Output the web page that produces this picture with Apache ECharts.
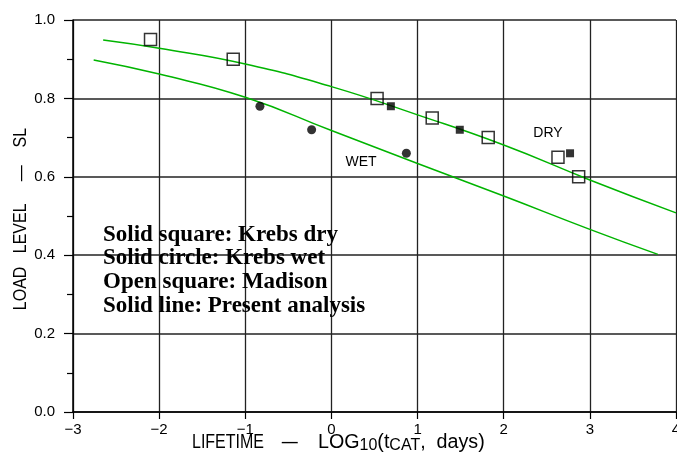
<!DOCTYPE html>
<html>
<head>
<meta charset="UTF-8">
<script src="https://cdn.jsdelivr.net/npm/echarts@6/dist/echarts.min.js"></script>
<style>
    html, body { margin: 0; padding: 0; background: #fff; }
    #chart { width: 677px; height: 457px; }
</style>
</head>
<body>
<div id="chart"></div>
<script>
    // analysis curves (x = log10 lifetime, y = load level)
    let dryLineX = [-2.65, -2, -1, 0, 1, 2, 3, 4];
    let dryLineY = [0.949, 0.928, 0.888, 0.83, 0.758, 0.681, 0.592, 0.508];
    let wetLineX = [-2.76, -2, -1, 0, 1, 2, 3, 3.79];
    let wetLineY = [0.898, 0.862, 0.803, 0.718, 0.634, 0.551, 0.466, 0.402];

    // Madison - open squares
    let madisonX = [-2.1, -1.14, 0.53, 1.17, 1.82, 2.63, 2.87];
    let madisonY = [0.95, 0.9, 0.8, 0.75, 0.7, 0.65, 0.6];
    // Krebs dry - solid squares
    let krebsDryX = [0.69, 1.49, 2.77];
    let krebsDryY = [0.78, 0.72, 0.66];
    // Krebs wet - solid circles
    let krebsWetX = [-0.83, -0.23, 0.87];
    let krebsWetY = [0.78, 0.72, 0.66];

    let legendLines = [
        'Solid square: Krebs dry',
        'Solid circle: Krebs wet',
        'Open square: Madison',
        'Solid line: Present analysis'
    ];

    function pairs(xs, ys) {
        return xs.map(function (x, i) { return [x, ys[i]]; });
    }

    let labelFont = 'Liberation Sans, Arial, sans-serif';
    let green = '#00b400';
    let gridColor = '#222';

    let chart = echarts.init(document.getElementById('chart'));
    chart.setOption({
        animation: false,
        grid: { left: 73, right: 1, top: 20, bottom: 45, outerBoundsMode: 'none', containLabel: false },
        xAxis: {
            type: 'value',
            min: -3, max: 4, interval: 1,
            axisLine: { show: true, onZero: false, lineStyle: { color: '#000', width: 1.5 } },
            axisTick: { show: true, length: 7, lineStyle: { color: '#000', width: 1.2 } },
            axisLabel: {
                margin: 10, color: '#000', fontSize: 15, fontFamily: labelFont,
                formatter: function (v) { return v < 0 ? '\u2212' + (-v) : '' + v; }
            },
            splitLine: { show: true, lineStyle: { color: gridColor, width: 1.3 } }
        },
        yAxis: {
            type: 'value',
            min: 0, max: 1, interval: 0.2,
            axisLine: { show: true, onZero: false, lineStyle: { color: '#000', width: 1.5 } },
            axisTick: { show: true, length: 9, lineStyle: { color: '#000', width: 1.2 } },
            minorTick: { show: true, splitNumber: 2, length: 6, lineStyle: { color: '#000', width: 1.2 } },
            axisLabel: {
                margin: 18, color: '#000', fontSize: 15, fontFamily: labelFont,
                formatter: function (v) { return v.toFixed(1); }
            },
            splitLine: { show: true, lineStyle: { color: gridColor, width: 1.6 } }
        },
        graphic: [
            {
                type: 'text', left: 103, top: 223, z: 10,
                style: {
                    text: legendLines.join('\n'),
                    font: 'bold 23px "Liberation Serif", "Times New Roman", serif',
                    lineHeight: 23.6, fill: '#000'
                }
            },
            {
                type: 'text', x: 548, y: 133, z: 10,
                style: { text: 'DRY', font: '14px ' + labelFont, fill: '#000', align: 'center', verticalAlign: 'middle' }
            },
            {
                type: 'text', x: 361, y: 162, z: 10,
                style: { text: 'WET', font: '14px ' + labelFont, fill: '#000', align: 'center', verticalAlign: 'middle' }
            },
            {
                type: 'text', x: 21, y: 219, rotation: Math.PI / 2, scaleY: 1.2, z: 10,
                style: { text: 'LOAD   LEVEL     \u2014    SL', font: '16px ' + labelFont, fill: '#000', align: 'center', verticalAlign: 'middle' }
            },
            {
                type: 'text', x: 192, y: 442, scaleY: 1.25, z: 10,
                style: { text: 'LIFETIME    \u2014', font: '16px ' + labelFont, fill: '#000', verticalAlign: 'middle' }
            },
            {
                type: 'text', x: 318, y: 442, scaleX: 1.23, scaleY: 1.25, z: 10,
                style: {
                    text: 'LOG{s|10}(t{s|CAT},  days)',
                    font: '16px ' + labelFont, fill: '#000', verticalAlign: 'middle',
                    rich: {
                        s: { fontSize: 13, fontFamily: labelFont, verticalAlign: 'bottom', padding: [6, 0, 0, 0] }
                    }
                }
            }
        ],
        series: [
            {
                name: 'dry analysis', type: 'line', data: pairs(dryLineX, dryLineY),
                smooth: true, showSymbol: false, symbol: 'none',
                lineStyle: { color: green, width: 1.5 }, z: 2
            },
            {
                name: 'wet analysis', type: 'line', data: pairs(wetLineX, wetLineY),
                smooth: true, showSymbol: false, symbol: 'none',
                lineStyle: { color: green, width: 1.5 }, z: 2
            },
            {
                name: 'Madison', type: 'scatter', data: pairs(madisonX, madisonY),
                symbol: 'rect', symbolSize: 12,
                itemStyle: { color: 'rgba(255,255,255,0)', borderColor: '#000', borderWidth: 1.5 }, z: 3
            },
            {
                name: 'Krebs dry', type: 'scatter', data: pairs(krebsDryX, krebsDryY),
                symbol: 'rect', symbolSize: 8,
                itemStyle: { color: '#000' }, z: 3
            },
            {
                name: 'Krebs wet', type: 'scatter', data: pairs(krebsWetX, krebsWetY),
                symbol: 'circle', symbolSize: 9,
                itemStyle: { color: '#000' }, z: 3
            }
        ]
    });
</script>
</body>
</html>
